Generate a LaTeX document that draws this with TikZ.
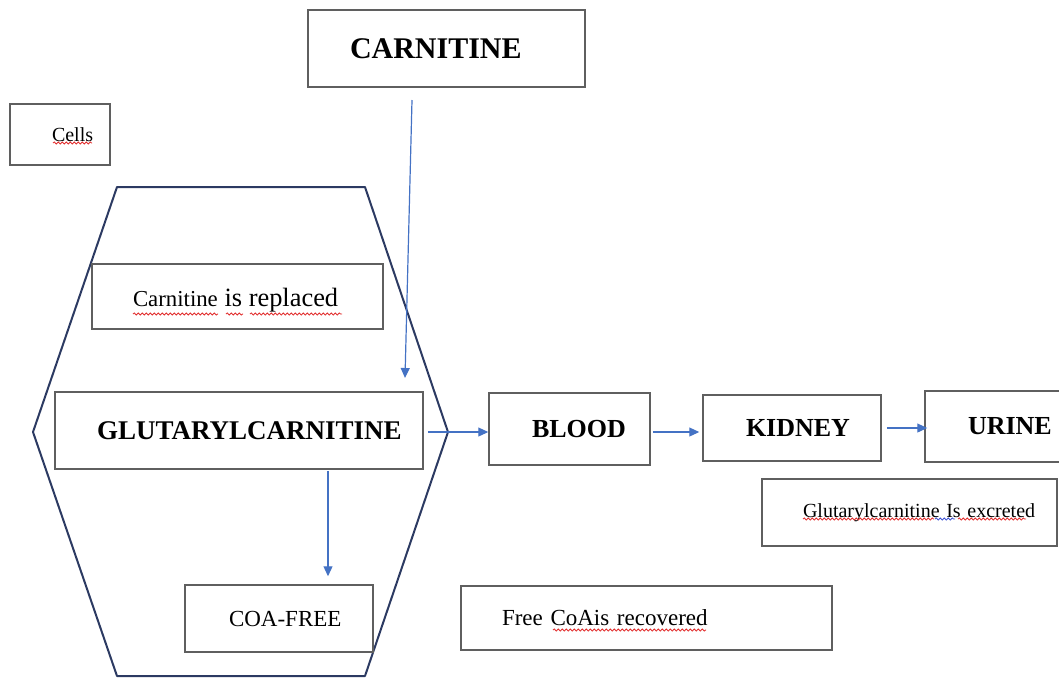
\documentclass[tikz,border=0pt]{standalone}
\usepackage{fontspec}
\setmainfont{Liberation Serif}
\usepackage{tikz}
\usetikzlibrary{arrows.meta,calc,decorations.pathmorphing}
\usepackage{xcolor}
\definecolor{boxcol}{RGB}{95,95,95}
\definecolor{wallcol}{RGB}{44,58,98}
\definecolor{flowcol}{RGB}{68,114,196}
\definecolor{spellcol}{RGB}{225,45,45}
\definecolor{grammcol}{RGB}{60,80,210}
\tikzset{
  % plain text box
  tbox/.style={draw=boxcol, line width=0.75pt, inner xsep=0pt, inner ysep=0pt, align=left},
  % bold caption
  capfont/.style={font=\fontsize{#1}{#1}\selectfont\bfseries},
  capfont/.default={13.2},
  % normal caption
  txtfont/.style={font=\fontsize{#1}{#1}\selectfont},
  txtfont/.default={10},
  % blue step arrow
  flow/.style={-{Triangle[length=5pt,width=4.5pt]}, draw=flowcol, line width=0.6pt},
  % cell outline
  cellwall/.style={draw=wallcol, line width=1pt, line join=round},
  % wavy underline
  spell/.style={draw=#1, line width=0.4pt, decorate,
    decoration={snake, segment length=2pt, amplitude=0.55pt}},
  spell/.default={spellcol},
}
\begin{document}
\begin{tikzpicture}[x=0.5pt, y=-0.5pt]
  \useasboundingbox (0,0) rectangle (1059,677);
  % cell outline
  \coordinate (w1) at (117,187);
  \coordinate (w2) at (365,187);
  \coordinate (w3) at (448,432);
  \coordinate (w4) at (365,676);
  \coordinate (w5) at (117,676);
  \coordinate (w6) at (33,432);
  \draw[cellwall] (w1) -- (w2) -- (w3) -- (w4) -- (w5) -- (w6) -- cycle;

  \node[tbox, capfont=15, text width=138.5pt, minimum height=38.5pt] (carn) at (446.5,48.5)
    {\hspace*{21pt}CARNITINE};
  \node[tbox, txtfont, text width=50pt, minimum height=30.5pt] (cells) at (60,134.5)
    {\hspace*{21pt}Cells};
  \node[tbox, text width=145.5pt, minimum height=32.5pt] (repl) at (237.5,296.5)
    {\hspace*{20.5pt}\raisebox{-2pt}[9pt][2.9pt]{{\fontsize{11.4}{14}\selectfont Carnitine} {\fontsize{13.2}{16}\selectfont is replaced}}};
  \node[tbox, capfont=13.5, text width=184pt, minimum height=38.5pt] (glut) at (239,430.5)
    {\hspace*{21pt}GLUTARYLCARNITINE};
  \node[tbox, capfont=13, text width=80.5pt, minimum height=36pt] (blood) at (569.5,429)
    {\hspace*{21.5pt}BLOOD};
  \node[tbox, capfont=13, text width=89pt, minimum height=33pt] (kidney) at (792,428)
    {\hspace*{21.5pt}KIDNEY};
  \node[tbox, capfont=13, text width=77.5pt, minimum height=35.5pt] (urine) at (1002.5,426.5)
    {\hspace*{21.5pt}URINE};
  \node[tbox, txtfont, text width=147.5pt, minimum height=33.5pt] (excr) at (909.5,512.5)
    {\hspace*{20.5pt}Glutarylcarnitine Is excreted};
  \node[tbox, txtfont=11.5, text width=94pt, minimum height=33.5pt] (coa) at (279,618.5)
    {\hspace*{22pt}COA-FREE};
  \node[tbox, txtfont=11.5, text width=185.5pt, minimum height=32pt] (free) at (646.5,618)
    {\hspace*{20.5pt}Free CoAis recovered};

  % wavy marks under words
  \draw[spell] (53,143) -- (92,143);
  \draw[spell] (133,314) -- (218,314);
  \draw[spell] (226,314) -- (243,314);
  \draw[spell] (250,314) -- (342,314);
  \draw[spell] (803,519) -- (934,519);
  \draw[spell=grammcol] (935,519) -- (955,519);
  \draw[spell] (958,519) -- (1026,519);
  \draw[spell] (553,630) -- (706,630);

  % arrows
  \coordinate (cin) at (412,100);
  \coordinate (cout) at (405,378);
  \draw[flow] (cin) -- (cout);
  \draw[flow] ($(glut.east)+(4,1.5)$) -- ($(blood.west)+(0,3)$);
  \draw[flow] ($(blood.east)+(2,3)$) -- ($(kidney.west)+(-3,4)$);
  \draw[flow] ($(kidney.east)+(5,0)$) -- ($(urine.west)+(3,1.5)$);
  \draw[flow] ($(glut.south)+(89,1)$) -- ($(coa.north)+(49,-8)$);
\end{tikzpicture}
\end{document}
